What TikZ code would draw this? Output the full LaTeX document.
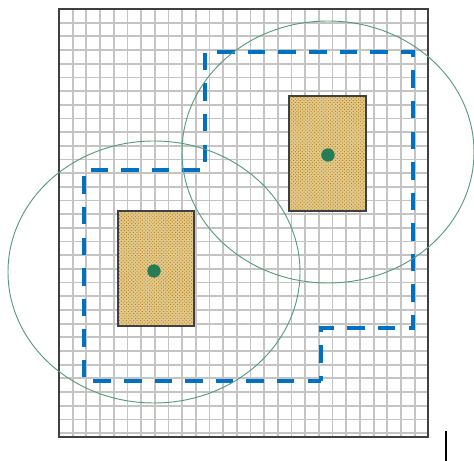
\documentclass[tikz,border=0pt]{standalone}
\usepackage{tikz}
\usepackage{xcolor}
\usetikzlibrary{patterns}

\definecolor{gridgray}{RGB}{196,196,196}
\definecolor{framegray}{RGB}{64,64,64}
\definecolor{zoneblue}{RGB}{0,112,192}
\definecolor{reachgreen}{RGB}{90,155,125}
\definecolor{dotgreen}{RGB}{38,125,85}
\definecolor{sitegold}{RGB}{175,125,10}
\definecolor{sitetan}{RGB}{226,200,140}

\begin{document}
\begin{tikzpicture}[x=0.03cm, y=-0.03cm,
	gridline/.style={draw=gridgray, line width=1.5pt},
	frame/.style={draw=framegray, line width=1.7pt},
	zone/.style={draw=zoneblue, line width=3.4pt, dash pattern=on 14.9pt off 11.2pt, dash phase=3.4pt},
	reach/.style={draw=reachgreen, line width=0.8pt},
	site/.style={rectangle, draw=framegray, line width=1.7pt, preaction={fill=sitetan}, pattern=crosshatch dots, pattern color=sitegold, minimum height=3.46cm},
	centre/.style={circle, fill=dotgreen, inner sep=0pt, minimum size=0.4cm}]
	\useasboundingbox (0,0) rectangle (474,461);

	\foreach \i in {1,...,26}
		\draw[gridline] ({59+13.68*\i},9) -- ({59+13.68*\i},437);
	\foreach \j in {1,...,31}
		\draw[gridline] (59,{9+13.68*\j}) -- (428,{9+13.68*\j});
	\draw[frame] (59,9) rectangle (428,437);

	\draw[zone] (321,381) -- (84,381) -- (84,170) -- (205,170) -- (205,52) -- (413,52) -- (413,328) -- (321,328) -- cycle;

	\draw[reach] (154,272) ellipse [x radius=146, y radius=131];
	\draw[reach] (328,152) ellipse [x radius=146, y radius=131];

	\node[site, minimum width=2.27cm] (SA) at (155.8,268.5) {};
	\node[site, minimum width=2.31cm] (SB) at (327.8,153.7) {};

	\node[centre] (A) at (154,271) {};
	\node[centre] (B) at (328,155) {};

	\draw[black, line width=1.2pt] (446,431) -- (446,461);
\end{tikzpicture}
\end{document}
